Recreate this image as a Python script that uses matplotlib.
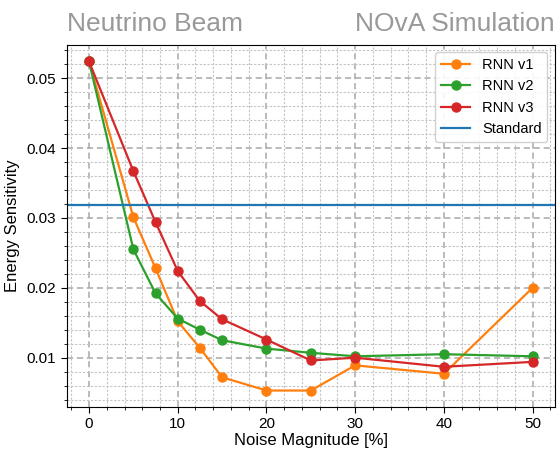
import numpy as np
import matplotlib
matplotlib.use("Agg")
import matplotlib.pyplot as plt
from matplotlib.ticker import MultipleLocator

plt.rcParams['font.family'] = ['Liberation Sans', 'DejaVu Sans']

noise = [0, 5, 7.5, 10, 12.5, 15, 20, 25, 30, 40, 50]
rnn_v1 = [0.0524, 0.0301, 0.0228, 0.0152, 0.0114, 0.0072, 0.0053, 0.0053, 0.0089, 0.0077, 0.0200]
rnn_v2 = [0.0524, 0.0255, 0.0192, 0.0156, 0.0140, 0.0125, 0.0113, 0.0107, 0.0102, 0.0105, 0.0102]
rnn_v3 = [0.0524, 0.0367, 0.0294, 0.0224, 0.0181, 0.0155, 0.0126, 0.0096, 0.0100, 0.0087, 0.0094]
standard = 0.0318

fig = plt.figure(figsize=(5.57, 4.5), dpi=100)
ax = fig.add_axes([0.120, 0.0956, 0.876, 0.8044])

ax.plot(noise, rnn_v1, marker='o', color='#ff7f0e', lw=1.6, ms=6.5, label='RNN v1')
ax.plot(noise, rnn_v2, marker='o', color='#2ca02c', lw=1.6, ms=6.5, label='RNN v2')
ax.plot(noise, rnn_v3, marker='o', color='#d62728', lw=1.6, ms=6.5, label='RNN v3')
ax.axhline(standard, color='#1f77b4', lw=1.6, label='Standard')

ax.xaxis.set_minor_locator(MultipleLocator(2))
ax.yaxis.set_minor_locator(MultipleLocator(0.002))
ax.yaxis.set_major_locator(MultipleLocator(0.01))
ax.grid(which='major', color='#a8a8a8', ls=(0, (4, 2.5)), lw=1.1)
ax.grid(which='minor', color='#c4c4c4', ls=(0, (2, 1.5)), lw=0.8)
ax.set_axisbelow(True)
ax.tick_params(which='major', length=4, labelsize=11)
ax.tick_params(which='minor', length=2)

ax.set_xlabel('Noise Magnitude [%]', fontsize=12, labelpad=1)
ax.set_ylabel('Energy Sensitivity', fontsize=12, labelpad=5)
ax.set_title('Neutrino Beam', loc='left', fontsize=19, color='#999999', pad=10)
ax.set_title('NOvA Simulation', loc='right', fontsize=19, color='#999999', pad=10)

ax.legend(loc='upper right', fontsize=10.5, framealpha=0.9)

fig.savefig('out.png', dpi=100)
